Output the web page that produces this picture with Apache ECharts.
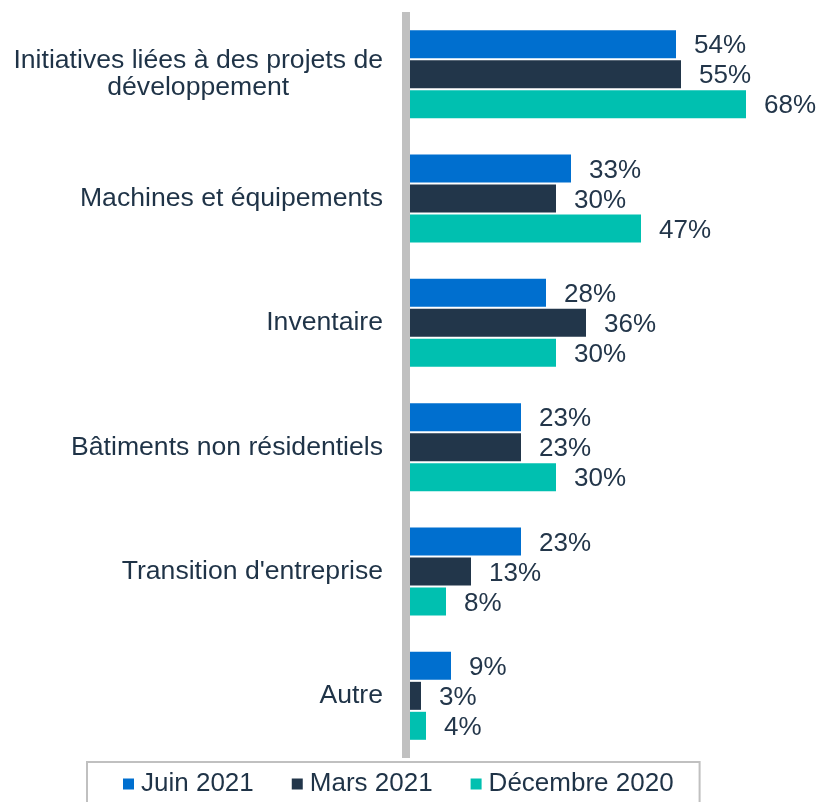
<!DOCTYPE html>
<html>
<head>
<meta charset="utf-8">
<script src="https://cdn.jsdelivr.net/npm/echarts@6/dist/echarts.min.js"></script>
<style>
  html, body { margin: 0; padding: 0; background: #fff; }
  #chart { width: 819px; height: 802px; }
</style>
</head>
<body>
<div id="chart"></div>
<script>
  // catégories (de haut en bas)
  const categories = [
    'Initiatives liées à des projets de\ndéveloppement',
    'Machines et équipements',
    'Inventaire',
    'Bâtiments non résidentiels',
    "Transition d'entreprise",
    'Autre'
  ]
  const seriesNames = ['Juin 2021', 'Mars 2021', 'Décembre 2020']
  const juin2021 = [54, 33, 28, 23, 23, 9]
  const mars2021 = [55, 30, 36, 23, 13, 3]
  const dec2020 = [68, 47, 30, 30, 8, 4]
  const colors = ['#006fcf', '#22364a', '#00c0b0']

  const chart = echarts.init(document.getElementById('chart'))

  const makeSeries = (name, data, color) => ({
    name: name,
    type: 'bar',
    data: data,
    barWidth: 28,
    barGap: '7%',
    itemStyle: { color: color },
    label: {
      show: true,
      position: 'right',
      distance: 18,
      offset: [0, 2],
      formatter: '{c}%',
      fontFamily: 'Liberation Sans, Arial, sans-serif',
      fontSize: 26,
      color: '#23364a'
    }
  })

  // libellé sur deux lignes centrées entre elles
  const labelFormatter = (v) => {
    if (v.indexOf('\n') < 0) return v
    return v.split('\n').map((l) => '{c|' + l + '}').join('\n')
  }

  const option = {
    animation: false,
    textStyle: { fontFamily: 'Liberation Sans, Arial, sans-serif' },
    grid: { left: 406, right: 13, top: 12, height: 746 },
    xAxis: { type: 'value', min: 0, max: 80, show: false },
    yAxis: {
      type: 'category',
      data: categories,
      inverse: true,
      z: 10,
      axisLine: { show: true, lineStyle: { color: '#c0c0c0', width: 8, cap: 'butt' } },
      axisTick: { show: false },
      axisLabel: {
        margin: 23,
        fontSize: 26.6,
        color: '#1f3347',
        lineHeight: 27,
        formatter: labelFormatter,
        rich: {
          c: { align: 'center', fontSize: 26.6, lineHeight: 27, color: '#1f3347' }
        }
      }
    },
    legend: {
      data: seriesNames,
      left: 87,
      top: 762,
      orient: 'horizontal',
      icon: 'rect',
      itemWidth: 11,
      itemHeight: 11,
      itemGap: 38,
      padding: [9, 26, 30, 36],
      borderColor: '#c0c0c0',
      borderWidth: 2,
      textStyle: { fontSize: 26, color: '#1f3347', padding: [0, 0, 0, 2] }
    },
    series: [
      makeSeries(seriesNames[0], juin2021, colors[0]),
      makeSeries(seriesNames[1], mars2021, colors[1]),
      makeSeries(seriesNames[2], dec2020, colors[2])
    ]
  }

  chart.setOption(option)
</script>
</body>
</html>
